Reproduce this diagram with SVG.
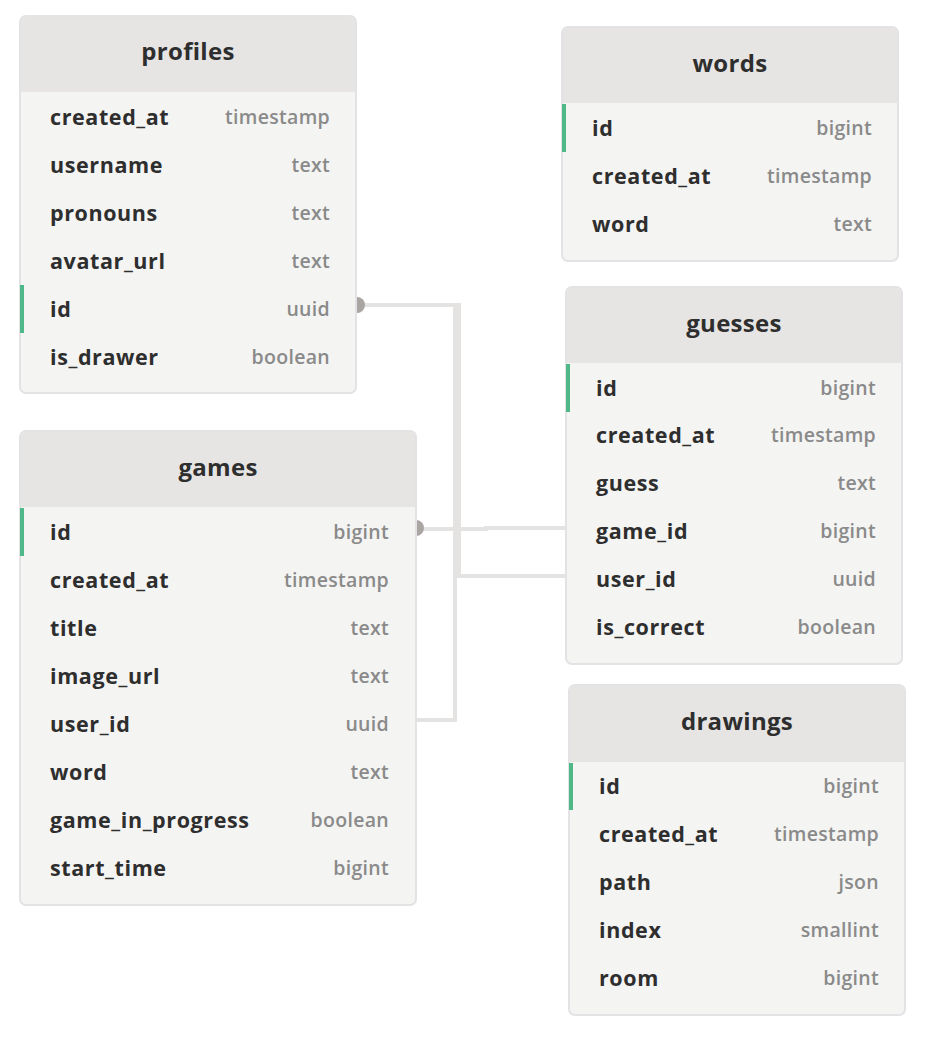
<svg xmlns="http://www.w3.org/2000/svg" width="930" height="1040" viewBox="0 0 930 1040">
<style>
.box{fill:#f4f4f3;stroke:#e3e3e6;stroke-width:2}
.hdr{fill:#e6e5e4}
.title{font-family:"Open Sans","Liberation Sans",sans-serif;font-weight:700;font-size:24px;letter-spacing:0.3px;fill:#2e2e2e;text-anchor:middle;dominant-baseline:central}
.col{font-family:"Open Sans","Liberation Sans",sans-serif;font-weight:700;font-size:21.5px;letter-spacing:0.6px;fill:#2e2e2e;dominant-baseline:central}
.typ{font-family:"Open Sans","Liberation Sans",sans-serif;font-weight:600;font-size:19.5px;letter-spacing:0.3px;fill:#8a8a8a;text-anchor:end;dominant-baseline:central}
.pk{fill:#4fb889}
.ln{fill:none;stroke:#e4e3e2;stroke-width:4}
.dot{fill:#a9a5a3}
</style>
<rect width="930" height="1040" fill="#ffffff"/>
<g id="connectors">
<path class="ln" d="M357 305 H455 V720 H416"/>
<path class="ln" d="M357 305 H459 V576 H566"/>
<path class="ln" d="M416 529 H486 V528 H566"/>
<circle class="dot" cx="357" cy="305" r="8"/>
<circle class="dot" cx="416" cy="528" r="8"/>
</g>
<g id="profiles">
<rect class="box" x="20" y="16" width="336" height="377" rx="6"/>
<path class="hdr" d="M26 17 H350 A5 5 0 0 1 355 22 V92 H21 V22 A5 5 0 0 1 26 17 Z"/>
<text class="title" x="188" y="50">profiles</text>
<rect class="pk" x="20" y="285" width="4" height="48"/>
<text class="col" x="50" y="116">created_at</text><text class="typ" x="330" y="116">timestamp</text>
<text class="col" x="50" y="164">username</text><text class="typ" x="330" y="164">text</text>
<text class="col" x="50" y="212">pronouns</text><text class="typ" x="330" y="212">text</text>
<text class="col" x="50" y="260">avatar_url</text><text class="typ" x="330" y="260">text</text>
<text class="col" x="50" y="308">id</text><text class="typ" x="330" y="308">uuid</text>
<text class="col" x="50" y="356">is_drawer</text><text class="typ" x="330" y="356">boolean</text>
</g>
<g id="words">
<rect class="box" x="562" y="27" width="336" height="234" rx="6"/>
<path class="hdr" d="M568 28 H892 A5 5 0 0 1 897 33 V103 H563 V33 A5 5 0 0 1 568 28 Z"/>
<text class="title" x="730" y="62">words</text>
<rect class="pk" x="562" y="104" width="4" height="48"/>
<text class="col" x="592" y="127">id</text><text class="typ" x="872" y="127">bigint</text>
<text class="col" x="592" y="175">created_at</text><text class="typ" x="872" y="175">timestamp</text>
<text class="col" x="592" y="223">word</text><text class="typ" x="872" y="223">text</text>
</g>
<g id="guesses">
<rect class="box" x="566" y="287" width="336" height="377" rx="6"/>
<path class="hdr" d="M572 288 H896 A5 5 0 0 1 901 293 V363 H567 V293 A5 5 0 0 1 572 288 Z"/>
<text class="title" x="734" y="322">guesses</text>
<rect class="pk" x="566" y="364" width="4" height="48"/>
<text class="col" x="596" y="387">id</text><text class="typ" x="876" y="387">bigint</text>
<text class="col" x="596" y="434">created_at</text><text class="typ" x="876" y="434">timestamp</text>
<text class="col" x="596" y="482">guess</text><text class="typ" x="876" y="482">text</text>
<text class="col" x="596" y="530">game_id</text><text class="typ" x="876" y="530">bigint</text>
<text class="col" x="596" y="578">user_id</text><text class="typ" x="876" y="578">uuid</text>
<text class="col" x="596" y="626">is_correct</text><text class="typ" x="876" y="626">boolean</text>
</g>
<g id="games">
<rect class="box" x="20" y="431" width="396" height="474" rx="6"/>
<path class="hdr" d="M26 432 H410 A5 5 0 0 1 415 437 V507 H21 V437 A5 5 0 0 1 26 432 Z"/>
<text class="title" x="218" y="466">games</text>
<rect class="pk" x="20" y="508" width="4" height="48"/>
<text class="col" x="50" y="531">id</text><text class="typ" x="389" y="531">bigint</text>
<text class="col" x="50" y="579">created_at</text><text class="typ" x="389" y="579">timestamp</text>
<text class="col" x="50" y="627">title</text><text class="typ" x="389" y="627">text</text>
<text class="col" x="50" y="675">image_url</text><text class="typ" x="389" y="675">text</text>
<text class="col" x="50" y="723">user_id</text><text class="typ" x="389" y="723">uuid</text>
<text class="col" x="50" y="771">word</text><text class="typ" x="389" y="771">text</text>
<text class="col" x="50" y="819">game_in_progress</text><text class="typ" x="389" y="819">boolean</text>
<text class="col" x="50" y="867">start_time</text><text class="typ" x="389" y="867">bigint</text>
</g>
<g id="drawings">
<rect class="box" x="569" y="685" width="336" height="330" rx="6"/>
<path class="hdr" d="M575 686 H899 A5 5 0 0 1 904 691 V762 H570 V691 A5 5 0 0 1 575 686 Z"/>
<text class="title" x="737" y="720">drawings</text>
<rect class="pk" x="569" y="763" width="4" height="47"/>
<text class="col" x="599" y="785">id</text><text class="typ" x="879" y="785">bigint</text>
<text class="col" x="599" y="833">created_at</text><text class="typ" x="879" y="833">timestamp</text>
<text class="col" x="599" y="881">path</text><text class="typ" x="879" y="881">json</text>
<text class="col" x="599" y="929">index</text><text class="typ" x="879" y="929">smallint</text>
<text class="col" x="599" y="977">room</text><text class="typ" x="879" y="977">bigint</text>
</g>
</svg>
